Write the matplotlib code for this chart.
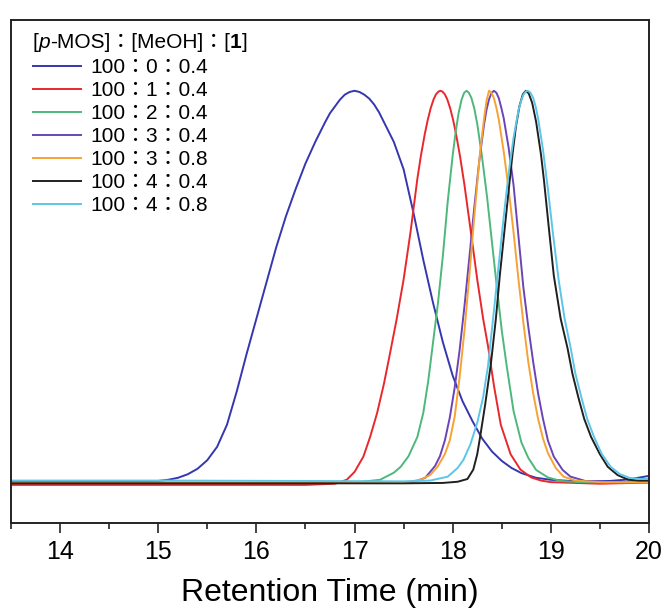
import numpy as np
import matplotlib
matplotlib.use('Agg')
import matplotlib.pyplot as plt
from matplotlib.ticker import MultipleLocator
from matplotlib.offsetbox import TextArea, HPacker, AnchoredOffsetbox

# GPC traces: retention time (min) vs normalised RI signal
blue_t = [13.5, 14.0, 14.5, 15.0, 15.1, 15.2, 15.3, 15.4, 15.5, 15.6, 15.7, 15.8, 15.9, 16.0,
          16.1, 16.2, 16.3, 16.4, 16.5, 16.6, 16.7, 16.75, 16.8, 16.85, 16.9, 16.95, 17.0,
          17.05, 17.1, 17.15, 17.2, 17.25, 17.3, 17.4, 17.5, 17.6, 17.7, 17.8, 17.9, 18.0,
          18.1, 18.2, 18.3, 18.4, 18.5, 18.6, 18.7, 18.85, 19.0, 19.2, 19.4, 19.6, 19.8, 20.0]
blue_y = [0.006, 0.006, 0.006, 0.007, 0.010, 0.015, 0.024, 0.038, 0.060, 0.094, 0.15, 0.235,
          0.33, 0.42, 0.51, 0.60, 0.68, 0.75, 0.815, 0.87, 0.92, 0.943, 0.96, 0.977, 0.99,
          0.997, 1.0, 0.997, 0.99, 0.98, 0.965, 0.945, 0.92, 0.87, 0.80, 0.69, 0.57, 0.46,
          0.36, 0.275, 0.21, 0.16, 0.115, 0.082, 0.058, 0.040, 0.027, 0.015, 0.010, 0.007,
          0.006, 0.007, 0.011, 0.020]

red_t = [13.5, 15.0, 16.5, 16.8, 16.92, 17.0, 17.09, 17.16, 17.23, 17.3, 17.36, 17.43, 17.5,
         17.57, 17.64, 17.675, 17.715, 17.745, 17.775, 17.805, 17.83, 17.855, 17.875, 17.895,
         17.92, 17.945, 17.975, 18.005, 18.035, 18.075, 18.12, 18.18, 18.25, 18.31, 18.36,
         18.42, 18.49, 18.59, 18.69, 18.8, 18.9, 19.0, 19.5, 20.0]
red_y = [-0.003, -0.003, -0.003, 0.0, 0.01, 0.03, 0.069, 0.12, 0.18, 0.255, 0.33, 0.42, 0.52,
         0.64, 0.776, 0.833, 0.889, 0.925, 0.955, 0.978, 0.991, 0.998, 1.0, 0.998, 0.991,
         0.978, 0.955, 0.925, 0.889, 0.833, 0.76, 0.65, 0.52, 0.42, 0.35, 0.25, 0.15, 0.075,
         0.036, 0.016, 0.008, 0.004, 0.0, 0.003]

green_t = [13.5, 15.0, 16.5, 17.0, 17.26, 17.4, 17.47, 17.55, 17.64, 17.7, 17.75, 17.8, 17.85,
           17.9, 17.95, 18.0, 18.03, 18.06, 18.09, 18.115, 18.14, 18.165, 18.19, 18.22, 18.25,
           18.3, 18.35, 18.4, 18.45, 18.5, 18.55, 18.62, 18.7, 18.77, 18.85, 18.97, 19.1, 19.3,
           19.6, 20.0]
green_y = [0.003, 0.003, 0.002, 0.003, 0.01, 0.028, 0.043, 0.07, 0.119, 0.18, 0.26, 0.36, 0.46,
           0.58, 0.72, 0.836, 0.895, 0.943, 0.977, 0.994, 1.0, 0.995, 0.982, 0.955, 0.916, 0.83,
           0.73, 0.615, 0.5, 0.39, 0.3, 0.185, 0.105, 0.066, 0.035, 0.016, 0.007, 0.004, 0.003,
           0.003]

purple_t = [13.5, 15.0, 16.5, 17.5, 17.62, 17.72, 17.82, 17.87, 17.92, 17.97, 18.02, 18.07,
            18.12, 18.17, 18.22, 18.27, 18.32, 18.345, 18.37, 18.395, 18.42, 18.445, 18.47,
            18.495, 18.52, 18.57, 18.62, 18.67, 18.72, 18.77, 18.82, 18.87, 18.92, 18.97, 19.03,
            19.12, 19.2, 19.35, 19.6, 20.0]
purple_y = [0.002, 0.002, 0.002, 0.003, 0.006, 0.015, 0.045, 0.07, 0.11, 0.168, 0.244, 0.339,
            0.452, 0.576, 0.703, 0.82, 0.915, 0.952, 0.978, 0.994, 1.0, 0.995, 0.981, 0.957,
            0.93, 0.855, 0.76, 0.63, 0.50, 0.40, 0.31, 0.23, 0.165, 0.11, 0.069, 0.035, 0.018,
            0.007, 0.004, 0.004]

orange_t = [13.5, 15.0, 16.5, 17.4, 17.55, 17.67, 17.77, 17.845, 17.92, 17.97, 18.02, 18.07,
            18.12, 18.17, 18.22, 18.27, 18.295, 18.32, 18.345, 18.37, 18.395, 18.42, 18.445,
            18.47, 18.52, 18.57, 18.62, 18.67, 18.72, 18.77, 18.82, 18.87, 18.92, 18.97, 19.05,
            19.13, 19.25, 19.5, 20.0]
orange_y = [0.002, 0.002, 0.002, 0.002, 0.005, 0.01, 0.022, 0.043, 0.075, 0.11, 0.17, 0.27,
            0.39, 0.53, 0.68, 0.82, 0.877, 0.93, 0.975, 1.0, 0.995, 0.981, 0.957, 0.926, 0.845,
            0.75, 0.64, 0.52, 0.41, 0.31, 0.23, 0.165, 0.115, 0.078, 0.04, 0.018, 0.008, 0.004,
            0.004]

black_t = [13.5, 15.0, 16.5, 17.5, 17.9, 18.05, 18.15, 18.21, 18.25, 18.28, 18.33, 18.39,
           18.44, 18.48, 18.53, 18.58, 18.61, 18.645, 18.68, 18.715, 18.745, 18.775, 18.81,
           18.85, 18.9, 18.93, 18.98, 19.03, 19.1, 19.17, 19.22, 19.28, 19.34, 19.41, 19.5,
           19.58, 19.68, 19.79, 19.9, 20.0]
black_y = [0.001, 0.001, 0.001, 0.001, 0.002, 0.005, 0.012, 0.036, 0.075, 0.12, 0.2, 0.307,
           0.42, 0.53, 0.65, 0.77, 0.84, 0.91, 0.961, 0.991, 1.0, 0.993, 0.969, 0.921, 0.837,
           0.772, 0.65, 0.53, 0.42, 0.345, 0.28, 0.22, 0.165, 0.119, 0.075, 0.043, 0.022, 0.01,
           0.008, 0.008]

cyan_t = [13.5, 15.0, 16.5, 17.5, 17.77, 17.95, 18.05, 18.11, 18.18, 18.25, 18.31, 18.36,
          18.42, 18.47, 18.52, 18.57, 18.62, 18.67, 18.695, 18.72, 18.745, 18.765, 18.79,
          18.82, 18.845, 18.87, 18.92, 18.97, 19.02, 19.08, 19.14, 19.2, 19.25, 19.31, 19.37,
          19.44, 19.52, 19.61, 19.7, 19.8, 19.9, 20.0]
cyan_y = [0.008, 0.008, 0.007, 0.006, 0.008, 0.018, 0.04, 0.061, 0.1, 0.155, 0.22, 0.30, 0.44,
          0.56, 0.68, 0.79, 0.88, 0.95, 0.973, 0.99, 0.998, 1.0, 0.996, 0.982, 0.96, 0.93, 0.85,
          0.75, 0.64, 0.518, 0.42, 0.348, 0.28, 0.221, 0.165, 0.119, 0.075, 0.043, 0.025,
          0.015, 0.012, 0.013]

labels = ['100：0：0.4', '100：1：0.4', '100：2：0.4', '100：3：0.4',
          '100：3：0.8', '100：4：0.4', '100：4：0.8']
colors = ['#3636b0', '#e8282c', '#4cb87c', '#6a44b8', '#f7a235', '#202020', '#5cc6e6']

fams = ['Liberation Sans', 'Noto Sans CJK TC', 'DejaVu Sans']
plt.rcParams['font.family'] = fams

fig = plt.figure(figsize=(6.64, 6.13), dpi=100)
ax = fig.add_axes([0.0166, 0.1468, 0.9608, 0.8205])

series = [(blue_t, blue_y), (red_t, red_y), (green_t, green_y), (purple_t, purple_y),
          (orange_t, orange_y), (black_t, black_y), (cyan_t, cyan_y)]
for (t, y), lab, c in zip(series, labels, colors):
    ax.plot(t, y, color=c, lw=1.4, label=lab)

ax.set_xlim(13.5, 20)
ax.set_ylim(-0.1, 1.18)
ax.set_yticks([])
ax.xaxis.set_major_locator(MultipleLocator(1))
ax.xaxis.set_minor_locator(MultipleLocator(0.5))
ax.tick_params(axis='x', which='major', direction='out', length=7, width=1.2,
               labelsize=18, pad=5, color='#222222')
ax.tick_params(axis='x', which='minor', direction='out', length=4, width=1.2, color='#222222')
for sp in ax.spines.values():
    sp.set_linewidth(1.4)
    sp.set_color('#222222')
ax.set_xlabel('Retention Time (min)', fontsize=23, labelpad=10)

leg = ax.legend(loc='upper left', frameon=False,
                fontsize=15, handlelength=2.3, handletextpad=0.45, labelspacing=0.19,
                borderaxespad=0.0, borderpad=0.0)
leg.set_bbox_to_anchor((0.034, 0.924), transform=ax.transAxes)

# legend title with italic p and bold 1
parts = [('[', {}), ('p', {'style': 'italic'}), ('-MOS]：[MeOH]：[', {}),
         ('1', {'weight': 'bold'}), (']', {})]
boxes = [TextArea(s, textprops=dict(fontsize=15, family=fams, **kw)) for s, kw in parts]
title_box = HPacker(children=boxes, pad=0, sep=0, align='baseline')
anch = AnchoredOffsetbox(loc='upper left', child=title_box, pad=0, borderpad=0,
                         bbox_to_anchor=(0.034, 0.974), bbox_transform=ax.transAxes,
                         frameon=False)
ax.add_artist(anch)

fig.savefig('out.png', dpi=100)
